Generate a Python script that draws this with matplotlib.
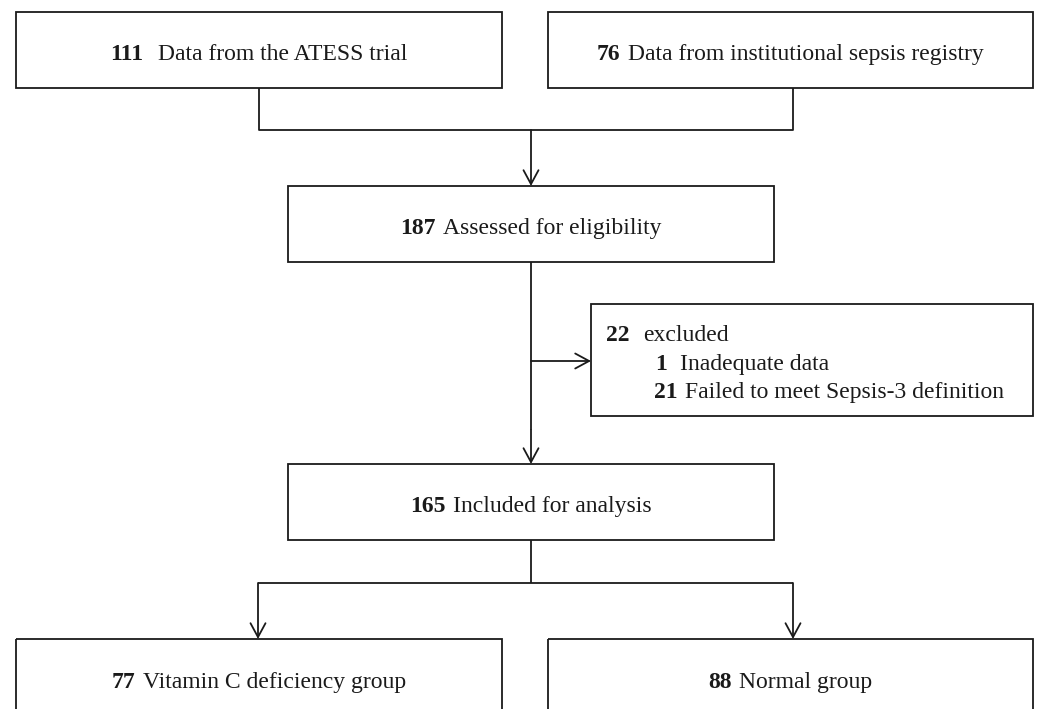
import matplotlib
matplotlib.use("Agg")
from matplotlib import pyplot as plt
from matplotlib.patches import Rectangle

# flowchart content
source_n = [111, 76]
source_text = ["Data from the ATESS trial", "Data from institutional sepsis registry"]
assessed_n = 187
assessed_text = "Assessed for eligibility"
excluded_n = 22
excluded_text = "excluded"
reason_n = [1, 21]
reason_text = ["Inadequate data", "Failed to meet Sepsis-3 definition"]
included_n = 165
included_text = "Included for analysis"
group_n = [77, 88]
group_text = ["Vitamin C deficiency group", "Normal group"]

W, H = 1040, 709
fig = plt.figure(figsize=(W / 100, H / 100), dpi=100)
ax = fig.add_axes([0, 0, 1, 1])
ax.set_xlim(0, W)
ax.set_ylim(H, 0)
ax.axis("off")

FONT = "Liberation Serif"
FS = 17
INK = "#1a1a1a"
LW = 1.3


def box(x0, y0, x1, y1):
    ax.add_patch(Rectangle((x0, y0), x1 - x0, y1 - y0, fill=False,
                           edgecolor=INK, lw=LW, clip_on=False))


def line(xs, ys):
    ax.plot(xs, ys, color=INK, lw=LW, solid_capstyle="butt")


def arrow(x0, y0, x1, y1):
    ax.annotate("", xy=(x1, y1), xytext=(x0, y0),
                arrowprops=dict(arrowstyle="->,head_length=0.5,head_width=0.27",
                                mutation_scale=20, color=INK, lw=LW,
                                shrinkA=0, shrinkB=0))


labels = []


# centered: gap = space between number and words
# left aligned: start = x where the words begin
def label(x, y, num, rest, gap=None, start=None):
    b = ax.text(x, y, str(num), fontsize=FS, family=FONT, weight="bold",
                ha="left", va="baseline", color=INK)
    r = ax.text(x, y, rest, fontsize=FS, family=FONT,
                ha="left", va="baseline", color=INK)
    labels.append((b, r, x, y, gap, start))


# boxes
box(16, 12, 502, 88)
box(548, 12, 1033, 88)
box(288, 186, 774, 262)
box(591, 304, 1033, 416)
box(288, 464, 774, 540)
box(16, 639, 502, 730)
box(548, 639, 1033, 730)

# connectors
line([259, 259, 793, 793], [88, 130, 130, 88])
arrow(531, 130, 531, 186)
line([531, 531], [262, 430])
arrow(531, 430, 531, 464)
arrow(531, 361, 591, 361)
line([531, 531], [540, 583])
line([258, 793], [583, 583])
arrow(258, 583, 258, 639)
arrow(793, 583, 793, 639)

# texts
label(259, 60, source_n[0], source_text[0], gap=15)
label(790, 60, source_n[1], source_text[1], gap=8)
label(531, 234, assessed_n, assessed_text, gap=7)
label(606, 341, excluded_n, excluded_text, start=643)
label(655, 370, reason_n[0], reason_text[0], start=680)
label(654, 398, reason_n[1], reason_text[1], start=685)
label(531, 512, included_n, included_text, gap=7)
label(259, 688, group_n[0], group_text[0], gap=7)
label(790, 688, group_n[1], group_text[1], gap=7)

fig.canvas.draw()
rend = fig.canvas.get_renderer()
inv = ax.transData.inverted()


def width(t):
    bb = t.get_window_extent(rend)
    p0 = inv.transform((bb.x0, bb.y0))
    p1 = inv.transform((bb.x1, bb.y0))
    return p1[0] - p0[0]


for b, r, x, y, gap, start in labels:
    if start is None:
        total = width(b) + gap + width(r)
        x0 = x - total / 2
        b.set_position((x0, y))
        r.set_position((x0 + width(b) + gap, y))
    else:
        r.set_position((start, y))

fig.savefig("out.png", dpi=100, facecolor="white")
